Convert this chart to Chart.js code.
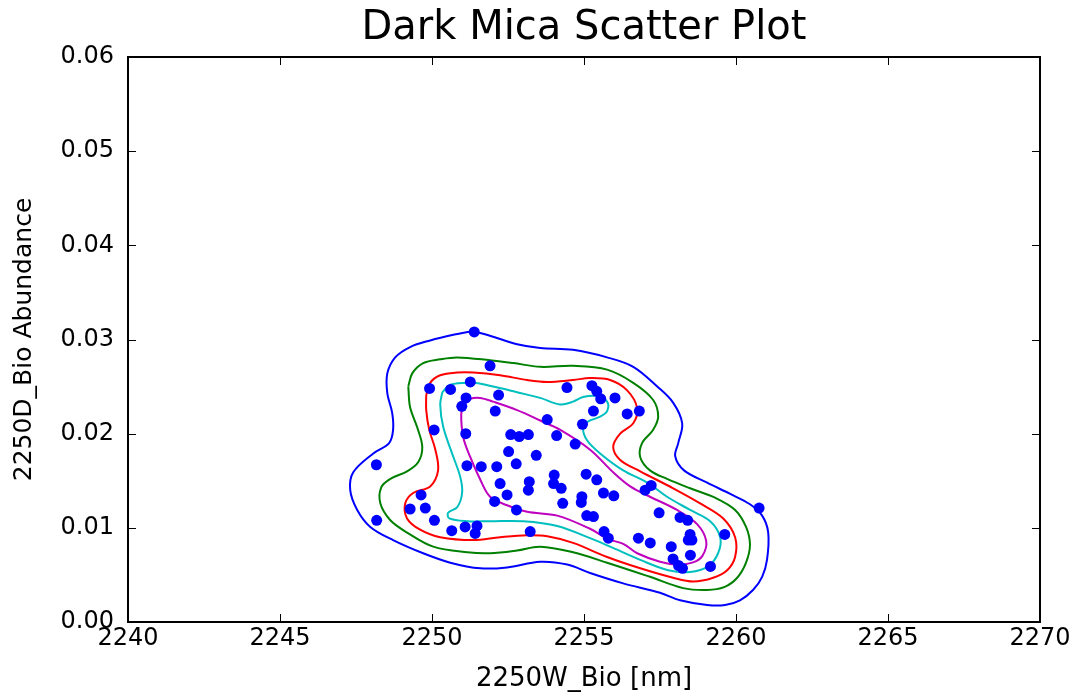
<!DOCTYPE html>
<html>
<head>
<meta charset="utf-8">
<title>Dark Mica Scatter Plot</title>
<script src="https://cdn.jsdelivr.net/npm/chart.js@4"></script>
<style>
  html, body { margin: 0; padding: 0; background: #fff; }
  #wrap { width: 1082px; height: 699px; }
</style>
</head>
<body>
<div id="wrap"><canvas id="chart" width="1082" height="699"></canvas></div>
<script>
// axis ticks
const xTicks = [2240, 2245, 2250, 2255, 2260, 2265, 2270];
const yTicks = [0, 0.01, 0.02, 0.03, 0.04, 0.05, 0.06];

// samples: 2250 nm feature wavelength vs. abundance
const bioWavelength = [
  2251.39, 2251.91, 2249.92, 2250.61, 2251.26, 2252.19, 2251.12, 2250.98, 2252.08, 2250.07,
  2251.11, 2252.59, 2252.87, 2253.17, 2253.79, 2254.10, 2254.44, 2255.26, 2255.42, 2255.55,
  2256.02, 2255.31, 2256.42, 2256.82, 2254.95, 2254.71, 2252.52, 2253.43, 2248.17, 2248.18,
  2251.15, 2251.62, 2252.13, 2252.77, 2252.24, 2252.47, 2252.06, 2252.78, 2253.20, 2253.17,
  2254.02, 2254.00, 2254.25, 2254.30, 2255.07, 2255.42, 2254.93, 2254.91, 2255.64, 2255.98,
  2255.09, 2255.31, 2253.23, 2255.66, 2255.80, 2249.64, 2249.28, 2249.78, 2250.08, 2250.65,
  2251.09, 2251.48, 2251.42, 2257.21, 2257.01, 2257.47, 2258.16, 2258.41, 2258.49, 2258.43,
  2258.55, 2256.79, 2257.18, 2257.87, 2258.50, 2257.93, 2258.11, 2258.24, 2259.16, 2259.63,
  2260.76
];
const bioAbundance = [
  0.0308, 0.0272, 0.0248, 0.0247, 0.0255, 0.0241, 0.0238, 0.0229, 0.0224, 0.0204,
  0.0200, 0.0199, 0.0197, 0.0199, 0.0215, 0.0198, 0.0249, 0.0251, 0.0245, 0.0237,
  0.0238, 0.0224, 0.0221, 0.0224, 0.0210, 0.0189, 0.0181, 0.0177, 0.0167, 0.0108,
  0.0166, 0.0165, 0.0165, 0.0168, 0.0147, 0.0135, 0.0128, 0.0119, 0.0149, 0.0140,
  0.0156, 0.0147, 0.0142, 0.0126, 0.0157, 0.0151, 0.0133, 0.0127, 0.0137, 0.0134,
  0.0113, 0.0112, 0.0096, 0.0096, 0.0089, 0.0135, 0.0120, 0.0121, 0.0108, 0.0097,
  0.0101, 0.0102, 0.0094, 0.0145, 0.0140, 0.0116, 0.0111, 0.0108, 0.0093, 0.0087,
  0.0087, 0.0089, 0.0084, 0.0080, 0.0071, 0.0067, 0.0060, 0.0057, 0.0059, 0.0093,
  0.0121
];

// density contour levels, outermost first
const blueContourX = [
  2251.36, 2252.01, 2252.80, 2253.56, 2254.64, 2255.76, 2256.62, 2257.41, 2257.93, 2258.23,
  2258.10, 2258.00, 2258.29, 2259.05, 2259.81, 2260.46, 2260.86, 2261.06, 2261.02, 2260.86,
  2260.56, 2260.13, 2259.64, 2259.05, 2258.16, 2257.50, 2256.29, 2255.20, 2254.45, 2253.56,
  2252.47, 2251.59, 2250.60, 2249.71, 2248.72, 2247.97, 2247.54, 2247.31, 2247.41, 2248.07,
  2248.59, 2248.72, 2248.69, 2248.53, 2248.53, 2248.79, 2249.28, 2249.94, 2250.70
];
const blueContourY = [
  0.0309, 0.0303, 0.0295, 0.0291, 0.0289, 0.0281, 0.0271, 0.0250, 0.0233, 0.0211,
  0.0190, 0.0176, 0.0161, 0.0148, 0.0136, 0.0125, 0.0113, 0.0095, 0.0066, 0.0048,
  0.0034, 0.0023, 0.0018, 0.0018, 0.0023, 0.0031, 0.0041, 0.0052, 0.0061, 0.0064,
  0.0058, 0.0057, 0.0063, 0.0073, 0.0087, 0.0101, 0.0119, 0.0140, 0.0159, 0.0179,
  0.0190, 0.0204, 0.0222, 0.0243, 0.0264, 0.0281, 0.0292, 0.0299, 0.0305
];
const greenContourX = [
  2249.22, 2249.35, 2249.71, 2250.27, 2250.83, 2251.91, 2252.67, 2253.56, 2254.64, 2255.76,
  2256.62, 2257.27, 2257.44, 2257.27, 2256.91, 2256.85, 2257.17, 2257.73, 2258.49, 2259.31,
  2259.97, 2260.33, 2260.46, 2260.33, 2260.04, 2259.61, 2259.05, 2258.26, 2257.17, 2255.76,
  2254.64, 2253.56, 2252.80, 2251.91, 2251.16, 2250.04, 2249.18, 2248.63, 2248.30, 2248.33,
  2248.63, 2249.18, 2249.55, 2249.68, 2249.51, 2249.28
];
const greenContourY = [
  0.0250, 0.0264, 0.0275, 0.0279, 0.0281, 0.0278, 0.0275, 0.0271, 0.0272, 0.0268,
  0.0254, 0.0236, 0.0218, 0.0204, 0.0190, 0.0175, 0.0161, 0.0152, 0.0142, 0.0132,
  0.0119, 0.0101, 0.0082, 0.0063, 0.0047, 0.0037, 0.0034, 0.0036, 0.0048, 0.0063,
  0.0074, 0.0080, 0.0076, 0.0073, 0.0074, 0.0080, 0.0095, 0.0108, 0.0126, 0.0143,
  0.0152, 0.0160, 0.0170, 0.0186, 0.0207, 0.0228
];
const redContourX = [
  2249.81, 2249.94, 2250.27, 2250.83, 2251.36, 2252.24, 2253.13, 2253.79, 2254.64, 2255.20,
  2255.86, 2256.42, 2256.75, 2256.62, 2256.19, 2255.96, 2256.19, 2256.85, 2257.93, 2258.82,
  2259.58, 2259.97, 2259.97, 2259.71, 2259.25, 2258.59, 2257.93, 2256.85, 2255.76, 2254.64,
  2253.79, 2253.13, 2252.24, 2251.36, 2250.27, 2249.61, 2249.18, 2249.12, 2249.38, 2249.94,
  2250.20, 2250.11, 2249.91, 2249.81
];
const redContourY = [
  0.0241, 0.0254, 0.0262, 0.0265, 0.0265, 0.0262, 0.0257, 0.0255, 0.0257, 0.0259,
  0.0257, 0.0246, 0.0227, 0.0211, 0.0200, 0.0186, 0.0172, 0.0160, 0.0142, 0.0126,
  0.0110, 0.0090, 0.0069, 0.0055, 0.0047, 0.0043, 0.0047, 0.0057, 0.0069, 0.0084,
  0.0091, 0.0092, 0.0090, 0.0087, 0.0090, 0.0098, 0.0110, 0.0126, 0.0137, 0.0144,
  0.0161, 0.0183, 0.0204, 0.0225
];
const cyanContourX = [
  2250.34, 2250.60, 2251.36, 2252.01, 2252.80, 2253.56, 2254.22, 2254.64, 2254.97, 2255.43,
  2255.76, 2255.76, 2255.53, 2255.14, 2254.97, 2255.10, 2255.53, 2256.29, 2257.08, 2257.73,
  2258.49, 2259.15, 2259.48, 2259.41, 2259.08, 2258.49, 2257.77, 2256.85, 2255.86, 2255.20,
  2254.12, 2253.00, 2251.91, 2251.16, 2250.57, 2250.53, 2250.83, 2250.99, 2250.93, 2250.66,
  2250.37, 2250.27
];
const cyanContourY = [
  0.0244, 0.0252, 0.0254, 0.0250, 0.0244, 0.0238, 0.0231, 0.0234, 0.0239, 0.0240,
  0.0234, 0.0224, 0.0218, 0.0213, 0.0206, 0.0193, 0.0179, 0.0161, 0.0148, 0.0133,
  0.0119, 0.0107, 0.0090, 0.0073, 0.0059, 0.0053, 0.0055, 0.0066, 0.0080, 0.0089,
  0.0102, 0.0107, 0.0107, 0.0107, 0.0110, 0.0116, 0.0122, 0.0137, 0.0154, 0.0179,
  0.0207, 0.0231
];
const magentaContourX = [
  2251.03, 2251.26, 2251.59, 2252.01, 2252.80, 2253.56, 2254.22, 2255.20, 2255.96, 2256.52,
  2257.17, 2258.06, 2258.72, 2259.02, 2258.89, 2258.56, 2258.06, 2257.50, 2256.75, 2256.29,
  2255.79, 2255.20, 2254.12, 2253.13, 2252.47, 2251.91, 2251.59, 2251.26, 2251.03, 2250.96
];
const magentaContourY = [
  0.0230, 0.0237, 0.0238, 0.0234, 0.0225, 0.0214, 0.0204, 0.0183, 0.0159, 0.0144,
  0.0133, 0.0119, 0.0104, 0.0086, 0.0070, 0.0063, 0.0061, 0.0064, 0.0073, 0.0083,
  0.0088, 0.0099, 0.0113, 0.0117, 0.0124, 0.0133, 0.0151, 0.0175, 0.0196, 0.0220
];

const chartTitle = "Dark Mica Scatter Plot";
const FONT = "'DejaVu Sans', 'Liberation Sans', sans-serif";

function toPoints(xs, ys) {
  return xs.map((x, i) => ({ x: x, y: ys[i] }));
}

// closed contour line: repeat the first vertex at the end
function contour(xs, ys, color) {
  const pts = toPoints(xs, ys);
  pts.push(pts[0]);
  return {
    data: pts,
    showLine: true,
    borderColor: color,
    borderWidth: 2,
    tension: 0.35,
    pointRadius: 0,
    fill: false
  };
}

// frame on all four sides with inward ticks, title centred over the axes
const frameTicks = {
  id: "frameTicks",
  afterDraw(chart) {
    const ctx = chart.ctx;
    const area = chart.chartArea;
    const xs = chart.scales.x, ys = chart.scales.y;
    const len = 8;
    ctx.save();
    ctx.strokeStyle = "#000";
    ctx.lineWidth = 1;
    ctx.beginPath();
    xTicks.forEach(function (v) {
      const px = Math.round(xs.getPixelForValue(v)) + 0.5;
      ctx.moveTo(px, area.bottom); ctx.lineTo(px, area.bottom - len);
      ctx.moveTo(px, area.top); ctx.lineTo(px, area.top + len);
    });
    yTicks.forEach(function (v) {
      const py = Math.round(ys.getPixelForValue(v)) + 0.5;
      ctx.moveTo(area.left, py); ctx.lineTo(area.left + len, py);
      ctx.moveTo(area.right, py); ctx.lineTo(area.right - len, py);
    });
    ctx.stroke();
    ctx.lineWidth = 2;
    ctx.strokeRect(area.left, area.top, area.right - area.left, area.bottom - area.top);

    ctx.fillStyle = "#000";
    ctx.font = "40px " + FONT;
    ctx.textAlign = "center";
    ctx.textBaseline = "middle";
    ctx.fillText(chartTitle, (area.left + area.right) / 2, 29);
    ctx.restore();
  }
};

var canvas = document.getElementById("chart");
var context = canvas.getContext("2d");

new Chart(context, {
  type: "scatter",
  data: {
    datasets: [
      {
        data: toPoints(bioWavelength, bioAbundance),
        backgroundColor: "#0000ff",
        borderWidth: 0,
        pointRadius: 5.5
      },
      contour(magentaContourX, magentaContourY, "#bf00bf"),
      contour(cyanContourX, cyanContourY, "#00bfbf"),
      contour(redContourX, redContourY, "#ff0000"),
      contour(greenContourX, greenContourY, "#008000"),
      contour(blueContourX, blueContourY, "#0000ff")
    ]
  },
  options: {
    responsive: false,
    animation: false,
    devicePixelRatio: 1,
    events: [],
    layout: { padding: { left: 0, right: 42, top: 57, bottom: 0 } },
    plugins: {
      legend: { display: false },
      tooltip: { enabled: false },
      title: { display: false }
    },
    scales: {
      x: {
        type: "linear",
        min: 2240,
        max: 2270,
        afterBuildTicks: function (scale) {
          scale.ticks = xTicks.map(function (v) { return { value: v }; });
        },
        afterFit: function (scale) { scale.height = 77; },
        grid: { display: false, drawTicks: false },
        border: { display: false },
        ticks: {
          color: "#000",
          padding: 2,
          maxRotation: 0,
          font: { family: FONT, size: 24 },
          callback: function (v) { return String(v); }
        },
        title: {
          display: true,
          text: "2250W_Bio [nm]",
          color: "#000",
          font: { family: FONT, size: 26 },
          padding: { top: 4, bottom: 4 }
        }
      },
      y: {
        type: "linear",
        min: 0,
        max: 0.06,
        afterBuildTicks: function (scale) {
          scale.ticks = yTicks.map(function (v) { return { value: v }; });
        },
        afterFit: function (scale) { scale.width = 128; },
        grid: { display: false, drawTicks: false },
        border: { display: false },
        ticks: {
          color: "#000",
          padding: 14,
          font: { family: FONT, size: 24 },
          callback: function (v) { return v.toFixed(2); }
        },
        title: {
          display: true,
          text: "2250D_Bio Abundance",
          color: "#000",
          font: { family: FONT, size: 25 },
          padding: { top: 9, bottom: 9 }
        }
      }
    }
  },
  plugins: [frameTicks]
});
</script>
</body>
</html>
